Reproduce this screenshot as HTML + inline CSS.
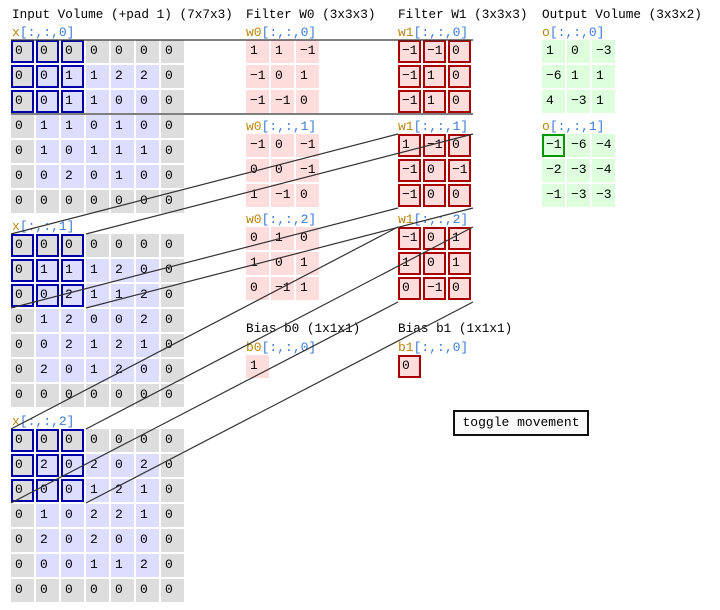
<!DOCTYPE html>
<html><head><meta charset="utf-8"><style>
body{margin:0;width:720px;height:610px;background:#fff;position:relative;overflow:hidden;font-family:"Liberation Mono","Noto Sans CJK SC",monospace;font-size:13px;color:#000}
.t{position:absolute;white-space:nowrap;line-height:14px;font-size:12.7px}
.l{position:absolute;white-space:nowrap;line-height:12px;color:#3a7bd5}
.l b{font-weight:normal;color:#b8860b}
.g{position:absolute;display:grid;grid-gap:2px;grid-auto-rows:23px}
.g7{grid-template-columns:repeat(7,23px)}
.g3{grid-template-columns:repeat(3,23px)}
.g span{display:block;box-sizing:border-box;padding:4px 0 0 4px;line-height:14px;background:#ddf}
.g span.p{background:#ddd}
.g span.h{border:2px solid #0000aa;padding:2px 0 0 2px}
.f span{background:#fdd}
.f span.h{border:2px solid #aa0000}
.o span{background:#dfd}
.o span.h{border:2px solid #009900}
.btn{position:absolute;left:453px;top:410px;width:136px;height:26px;box-sizing:border-box;border:2px solid #111;background:#fafafa;text-align:center;line-height:22px;font-size:13px}
svg{position:absolute;left:0;top:0}
</style></head><body>
<div class="t" style="left:12px;top:8px">Input Volume (+pad 1) (7x7x3)</div>
<div class="t" style="left:246px;top:8px">Filter W0 (3x3x3)</div>
<div class="t" style="left:398px;top:8px">Filter W1 (3x3x3)</div>
<div class="t" style="left:542px;top:8px">Output Volume (3x3x2)</div>

<div class="l" style="left:12px;top:27px"><b>x</b>[:,:,0]</div>
<div class="g g7" style="left:11px;top:40px">
<span class="p h">0</span><span class="p h">0</span><span class="p h">0</span><span class="p">0</span><span class="p">0</span><span class="p">0</span><span class="p">0</span>
<span class="p h">0</span><span class="h">0</span><span class="h">1</span><span>1</span><span>2</span><span>2</span><span class="p">0</span>
<span class="p h">0</span><span class="h">0</span><span class="h">1</span><span>1</span><span>0</span><span>0</span><span class="p">0</span>
<span class="p">0</span><span>1</span><span>1</span><span>0</span><span>1</span><span>0</span><span class="p">0</span>
<span class="p">0</span><span>1</span><span>0</span><span>1</span><span>1</span><span>1</span><span class="p">0</span>
<span class="p">0</span><span>0</span><span>2</span><span>0</span><span>1</span><span>0</span><span class="p">0</span>
<span class="p">0</span><span class="p">0</span><span class="p">0</span><span class="p">0</span><span class="p">0</span><span class="p">0</span><span class="p">0</span>
</div>
<div class="l" style="left:12px;top:221px"><b>x</b>[:,:,1]</div>
<div class="g g7" style="left:11px;top:234px">
<span class="p h">0</span><span class="p h">0</span><span class="p h">0</span><span class="p">0</span><span class="p">0</span><span class="p">0</span><span class="p">0</span>
<span class="p h">0</span><span class="h">1</span><span class="h">1</span><span>1</span><span>2</span><span>0</span><span class="p">0</span>
<span class="p h">0</span><span class="h">0</span><span class="h">2</span><span>1</span><span>1</span><span>2</span><span class="p">0</span>
<span class="p">0</span><span>1</span><span>2</span><span>0</span><span>0</span><span>2</span><span class="p">0</span>
<span class="p">0</span><span>0</span><span>2</span><span>1</span><span>2</span><span>1</span><span class="p">0</span>
<span class="p">0</span><span>2</span><span>0</span><span>1</span><span>2</span><span>0</span><span class="p">0</span>
<span class="p">0</span><span class="p">0</span><span class="p">0</span><span class="p">0</span><span class="p">0</span><span class="p">0</span><span class="p">0</span>
</div>
<div class="l" style="left:12px;top:416px"><b>x</b>[:,:,2]</div>
<div class="g g7" style="left:11px;top:429px">
<span class="p h">0</span><span class="p h">0</span><span class="p h">0</span><span class="p">0</span><span class="p">0</span><span class="p">0</span><span class="p">0</span>
<span class="p h">0</span><span class="h">2</span><span class="h">0</span><span>2</span><span>0</span><span>2</span><span class="p">0</span>
<span class="p h">0</span><span class="h">0</span><span class="h">0</span><span>1</span><span>2</span><span>1</span><span class="p">0</span>
<span class="p">0</span><span>1</span><span>0</span><span>2</span><span>2</span><span>1</span><span class="p">0</span>
<span class="p">0</span><span>2</span><span>0</span><span>2</span><span>0</span><span>0</span><span class="p">0</span>
<span class="p">0</span><span>0</span><span>0</span><span>1</span><span>1</span><span>2</span><span class="p">0</span>
<span class="p">0</span><span class="p">0</span><span class="p">0</span><span class="p">0</span><span class="p">0</span><span class="p">0</span><span class="p">0</span>
</div>

<div class="l" style="left:246px;top:27px"><b>w0</b>[:,:,0]</div>
<div class="g g3 f" style="left:246px;top:40px"><span>1</span><span>1</span><span>−1</span><span>−1</span><span>0</span><span>1</span><span>−1</span><span>−1</span><span>0</span></div>
<div class="l" style="left:246px;top:121px"><b>w0</b>[:,:,1]</div>
<div class="g g3 f" style="left:246px;top:134px"><span>−1</span><span>0</span><span>−1</span><span>0</span><span>0</span><span>−1</span><span>1</span><span>−1</span><span>0</span></div>
<div class="l" style="left:246px;top:214px"><b>w0</b>[:,:,2]</div>
<div class="g g3 f" style="left:246px;top:227px"><span>0</span><span>1</span><span>0</span><span>1</span><span>0</span><span>1</span><span>0</span><span>−1</span><span>1</span></div>

<div class="l" style="left:398px;top:27px"><b>w1</b>[:,:,0]</div>
<div class="g g3 f" style="left:398px;top:40px"><span class="h">−1</span><span class="h">−1</span><span class="h">0</span><span class="h">−1</span><span class="h">1</span><span class="h">0</span><span class="h">−1</span><span class="h">1</span><span class="h">0</span></div>
<div class="l" style="left:398px;top:121px"><b>w1</b>[:,:,1]</div>
<div class="g g3 f" style="left:398px;top:134px"><span class="h">1</span><span class="h">−1</span><span class="h">0</span><span class="h">−1</span><span class="h">0</span><span class="h">−1</span><span class="h">−1</span><span class="h">0</span><span class="h">0</span></div>
<div class="l" style="left:398px;top:214px"><b>w1</b>[:,:,2]</div>
<div class="g g3 f" style="left:398px;top:227px"><span class="h">−1</span><span class="h">0</span><span class="h">1</span><span class="h">1</span><span class="h">0</span><span class="h">1</span><span class="h">0</span><span class="h">−1</span><span class="h">0</span></div>

<div class="t" style="left:246px;top:322px">Bias b0 (1x1x1)</div>
<div class="l" style="left:246px;top:342px"><b>b0</b>[:,:,0]</div>
<div class="g g3 f" style="left:246px;top:355px"><span>1</span></div>
<div class="t" style="left:398px;top:322px">Bias b1 (1x1x1)</div>
<div class="l" style="left:398px;top:342px"><b>b1</b>[:,:,0]</div>
<div class="g g3 f" style="left:398px;top:355px"><span class="h">0</span></div>

<div class="l" style="left:542px;top:27px"><b>o</b>[:,:,0]</div>
<div class="g g3 o" style="left:542px;top:40px"><span>1</span><span>0</span><span>−3</span><span>−6</span><span>1</span><span>1</span><span>4</span><span>−3</span><span>1</span></div>
<div class="l" style="left:542px;top:121px"><b>o</b>[:,:,1]</div>
<div class="g g3 o" style="left:542px;top:134px"><span class="h">−1</span><span>−6</span><span>−4</span><span>−2</span><span>−3</span><span>−4</span><span>−1</span><span>−3</span><span>−3</span></div>

<div class="btn">toggle movement</div>

<svg width="720" height="610" stroke="#333" stroke-width="1.2" fill="none">
<line x1="11" y1="40" x2="473" y2="40"/>
<line x1="11" y1="114" x2="473" y2="114"/>
<line x1="11" y1="234" x2="398" y2="134"/>
<line x1="86" y1="234" x2="473" y2="134"/>
<line x1="11" y1="308" x2="398" y2="208"/>
<line x1="86" y1="308" x2="473" y2="208"/>
<line x1="11" y1="429" x2="398" y2="227"/>
<line x1="86" y1="429" x2="473" y2="227"/>
<line x1="11" y1="503" x2="398" y2="302"/>
<line x1="86" y1="503" x2="473" y2="302"/>
</svg>
</body></html>
